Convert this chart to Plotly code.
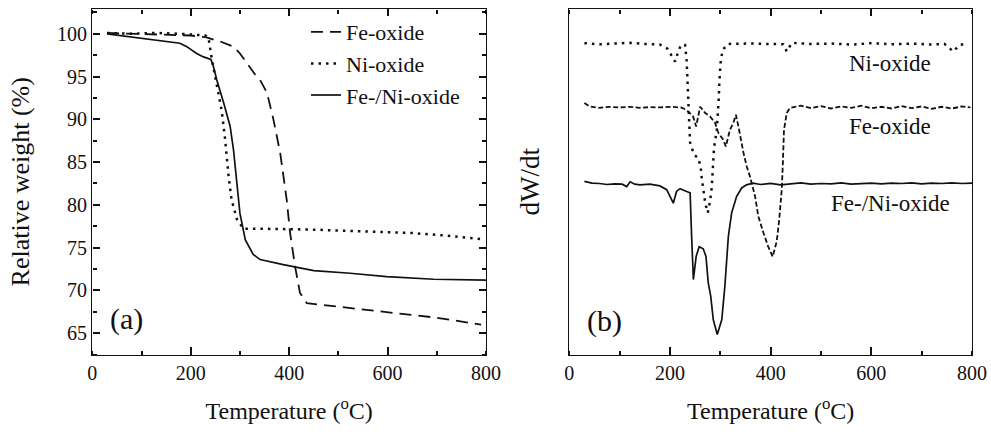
import plotly.graph_objects as go

# ---- (a) TGA curves: temperature (°C) vs relative weight (%) ----
fe_T = [30, 100, 150, 200, 230, 260, 287, 300, 314, 330, 341, 355, 368, 382, 395, 402, 412, 422, 436, 500, 600, 700, 790]
fe_W = [100.1, 100.0, 99.9, 99.8, 99.6, 99.1, 98.5, 97.7, 96.6, 95.3, 94.6, 93.1, 90.0, 86.0, 80.6, 76.7, 72.8, 69.7, 68.5, 68.1, 67.5, 66.8, 66.0]

ni_T = [30, 80, 130, 180, 230, 236, 243, 253, 263, 270, 277, 283, 294, 307, 350, 450, 558, 650, 720, 790]
ni_W = [100.1, 100.0, 100.1, 100.0, 99.8, 99.6, 97.0, 93.8, 91.0, 87.6, 83.3, 80.6, 78.3, 77.2, 77.2, 77.1, 76.9, 76.7, 76.4, 76.0]

fn_T = [30, 83, 131, 178, 192, 202, 212, 226, 241, 246, 253, 267, 280, 287, 294, 300, 311, 327, 341, 388, 450, 524, 598, 694, 800]
fn_W = [100.0, 99.6, 99.3, 98.9, 98.5, 98.1, 97.7, 97.3, 97.0, 96.2, 94.6, 91.9, 89.2, 86.4, 82.5, 79.0, 75.9, 74.2, 73.6, 73.0, 72.3, 72.0, 71.6, 71.3, 71.2]

# ---- (b) DTG curves (arbitrary units, vertically offset) ----
ni_dT = [30, 60, 90, 120, 150, 180, 195, 204, 210, 216, 222, 230, 233, 235, 236.5, 238, 240, 248, 256, 261, 263,
         266, 270, 275, 279.5, 283, 284, 285, 287.5, 293, 296, 297, 298, 299.5, 301, 305, 315, 360, 400, 425, 432,
         442, 480, 520, 560, 600, 640, 680, 720, 745, 763, 775, 792]
ni_dW = [90.1, 89.8, 90.0, 90.2, 89.9, 89.7, 88.5, 86.5, 84.8, 87.5, 89.6, 89.6, 85.3, 78.6, 74.7, 67.9, 61.3, 57.8, 56.9, 54.4, 51.2,
         47.7, 43.9, 41.0, 44.3, 48.3, 51.7, 55.5, 59.8, 65.0, 70.8, 74.3, 78.6, 81.5, 85.3, 88.2, 89.9, 90.0, 89.9, 89.8, 87.7,
         90.2, 89.9, 90.0, 89.7, 90.1, 89.8, 90.0, 89.7, 89.9, 87.7, 89.6, 90.0]

fe_dT = [30, 40, 60, 80, 100, 120, 140, 160, 180, 200, 222, 233, 246, 252, 260, 270, 279.5, 289.5, 296, 306, 311,
         319, 326, 331, 336, 341, 346, 352.5, 359, 369, 375.5, 385.5, 395, 404, 412, 417, 422, 424, 426.5, 432, 438.5,
         460, 480, 500, 520, 540, 560, 580, 600, 620, 640, 660, 680, 700, 720, 740, 760, 780, 797]
fe_dW = [72.8, 71.8, 71.4, 71.7, 71.5, 71.7, 71.4, 71.6, 71.5, 71.7, 71.5, 70.8, 68.9, 66.0, 71.7, 69.9, 68.9, 67.1, 64.2, 62.1, 60.2,
         65.0, 67.1, 69.4, 66.0, 62.1, 58.4, 54.4, 51.5, 45.8, 40.0, 35.3, 31.3, 28.3, 32.7, 39.0, 47.7, 54.4, 65.0, 69.9, 71.4,
         72.0, 71.3, 71.9, 71.2, 71.8, 71.4, 72.0, 71.3, 71.7, 71.2, 71.9, 71.3, 71.8, 71.1, 71.7, 71.2, 71.8, 71.5]

fn_dT = [30, 45, 60, 75, 90, 105, 114, 121, 130, 140.5, 160, 180, 193.5, 200, 206.6, 213, 220, 233, 240, 243, 246.5,
         252, 258, 266, 271.5, 276, 281, 286, 294, 303, 309, 316, 322.5, 332.5, 342.5, 352, 365, 380, 400, 420, 440,
         460, 480, 500, 520, 540, 560, 580, 600, 620, 640, 660, 680, 700, 720, 740, 760, 780, 800]
fn_dW = [50.1, 49.6, 49.5, 49.2, 49.4, 49.3, 48.6, 50.0, 49.3, 49.1, 49.3, 48.8, 47.7, 45.5, 43.8, 47.2, 48.0, 47.2, 46.8, 34.2, 21.7,
         28.4, 31.2, 30.6, 28.4, 20.8, 16.8, 10.1, 5.8, 10.1, 19.7, 34.2, 41.0, 45.8, 48.2, 49.1, 49.6, 49.2, 49.5, 49.1, 49.4,
         49.7, 49.3, 49.5, 49.4, 49.7, 49.3, 49.5, 49.6, 49.4, 49.6, 49.5, 49.7, 49.4, 49.6, 49.5, 49.7, 49.5, 49.6]

# tick spacing (major / minor) and axis ranges
x_major, x_minor = 200, 100
w_major, w_minor = 5, 2.5
T_RANGE = [0, 800]
W_RANGE = [62.5, 102.9]
D_RANGE = [0, 100]

INK = "#111111"
FONT = "Liberation Serif"
W, H = 991, 435

XA = [92.3 / W, 486 / W]      # panel (a) horizontal domain
XB = [569.3 / W, 972 / W]     # panel (b) horizontal domain
YD = [1 - 354.5 / H, 1 - 9 / H]

fig = go.Figure()

fig.add_trace(go.Scatter(x=fe_T, y=fe_W, name="Fe-oxide", mode="lines",
                         line=dict(color=INK, width=1.8, dash="12px,7px"), xaxis="x", yaxis="y"))
fig.add_trace(go.Scatter(x=ni_T, y=ni_W, name="Ni-oxide", mode="lines",
                         line=dict(color=INK, width=2.5, dash="2.5px,5px"), xaxis="x", yaxis="y"))
fig.add_trace(go.Scatter(x=fn_T, y=fn_W, name="Fe-/Ni-oxide", mode="lines",
                         line=dict(color=INK, width=1.7), xaxis="x", yaxis="y"))

fig.add_trace(go.Scatter(x=ni_dT, y=ni_dW, mode="lines", showlegend=False,
                         line=dict(color=INK, width=2.5, dash="2.5px,5px"), xaxis="x2", yaxis="y2"))
fig.add_trace(go.Scatter(x=fe_dT, y=fe_dW, mode="lines", showlegend=False,
                         line=dict(color=INK, width=1.8, dash="5px,2.5px"), xaxis="x2", yaxis="y2"))
fig.add_trace(go.Scatter(x=fn_dT, y=fn_dW, mode="lines", showlegend=False,
                         line=dict(color=INK, width=1.7), xaxis="x2", yaxis="y2"))

# transparent carriers so every tick-only overlay axis gets drawn
for xa, ya, xs, ys in [("x3", "y", fn_T, fn_W), ("x4", "y", fn_T, fn_W),
                       ("x", "y3", fn_T, fn_W), ("x", "y4", fn_T, fn_W),
                       ("x5", "y2", fn_dT, fn_dW), ("x6", "y2", fn_dT, fn_dW)]:
    fig.add_trace(go.Scatter(x=xs, y=ys, xaxis=xa, yaxis=ya, mode="lines", opacity=0,
                             line=dict(width=0), hoverinfo="skip", showlegend=False))


def temp_axis(domain, anchor):
    return dict(domain=domain, anchor=anchor, range=T_RANGE,
                tickmode="linear", tick0=0, dtick=x_major,
                ticks="inside", ticklen=7, tickwidth=2, tickcolor=INK,
                showline=True, linecolor=INK, linewidth=1.4, mirror="ticks",
                showgrid=False, zeroline=False,
                tickfont=dict(family=FONT, size=20, color=INK),
                title=dict(text="Temperature (<sup>o</sup>C)",
                           font=dict(family=FONT, size=24, color=INK), standoff=19))


def minor_ticks(over, side, position, rng, step):
    # tick-only axis on the opposite edge: its "outside" ticks point into the frame
    return dict(overlaying=over, side=side, anchor="free", position=position, range=rng,
                tickmode="linear", tick0=0, dtick=step,
                ticks="outside", ticklen=4, tickwidth=1.6, tickcolor=INK,
                showticklabels=False, showline=False, showgrid=False, zeroline=False)


fig.update_layout(
    template="none",
    width=W, height=H,
    margin=dict(l=0, r=0, t=0, b=0),
    paper_bgcolor="white", plot_bgcolor="white",
    font=dict(family=FONT, color=INK),
    xaxis=temp_axis(XA, "y"),
    yaxis=dict(domain=YD, anchor="x", range=W_RANGE,
               tickmode="linear", tick0=0, dtick=w_major,
               ticks="inside", ticklen=7, tickwidth=2, tickcolor=INK,
               showline=True, linecolor=INK, linewidth=1.4, mirror="ticks",
               showgrid=False, zeroline=False,
               tickfont=dict(family=FONT, size=20, color=INK),
               title=dict(text="Relative weight (%)", font=dict(family=FONT, size=26, color=INK),
                          standoff=19)),
    xaxis2=temp_axis(XB, "y2"),
    yaxis2=dict(domain=YD, anchor="x2", range=D_RANGE, showticklabels=False, ticks="",
                showline=True, linecolor=INK, linewidth=1.4, mirror=True,
                showgrid=False, zeroline=False,
                title=dict(text="dW/dt", font=dict(family=FONT, size=27, color=INK), standoff=20)),
    xaxis3=minor_ticks("x", "top", YD[0], T_RANGE, x_minor),
    xaxis4=minor_ticks("x", "bottom", YD[1], T_RANGE, x_minor),
    yaxis3=minor_ticks("y", "right", XA[0], W_RANGE, w_minor),
    yaxis4=minor_ticks("y", "left", XA[1], W_RANGE, w_minor),
    xaxis5=minor_ticks("x2", "top", YD[0], T_RANGE, x_minor),
    xaxis6=minor_ticks("x2", "bottom", YD[1], T_RANGE, x_minor),
    legend=dict(x=306 / W, y=1 - 11 / H, xanchor="left", yanchor="top",
                bgcolor="rgba(0,0,0,0)", font=dict(family=FONT, size=22, color=INK),
                tracegroupgap=0, itemwidth=30),
)

# panel labels
fig.add_annotation(x=32.5, y=66.7, xref="x", yref="y", text="(a)", showarrow=False,
                   xanchor="left", yanchor="middle", font=dict(family=FONT, size=30, color=INK))
fig.add_annotation(x=31, y=9.6, xref="x2", yref="y2", text="(b)", showarrow=False,
                   xanchor="left", yanchor="middle", font=dict(family=FONT, size=30, color=INK))

# curve labels in panel (b)
for txt, yv in [("Ni-oxide", 84.3), ("Fe-oxide", 66.0), ("Fe-/Ni-oxide", 43.8)]:
    fig.add_annotation(x=638, y=yv, xref="x2", yref="y2", text=txt, showarrow=False,
                       xanchor="center", yanchor="middle", font=dict(family=FONT, size=23, color=INK))

fig.write_html("out.html")
